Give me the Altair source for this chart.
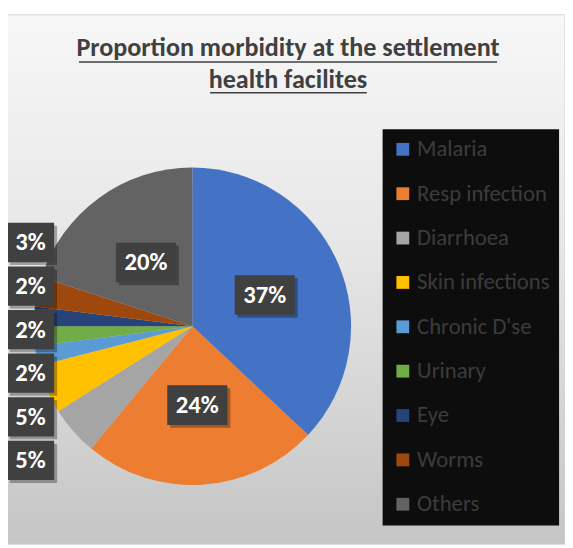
import math
import altair as alt
import pandas as pd

categories = ["Malaria", "Resp infection", "Diarrhoea", "Skin infections",
              "Chronic D'se", "Urinary", "Eye", "Worms", "Others"]
values = [37, 24, 5, 5, 2, 2, 2, 3, 20]
colors = ["#4472C4", "#ED7D31", "#A5A5A5", "#FFC000", "#5B9BD5",
          "#70AD47", "#264478", "#9E480E", "#636363"]
title_lines = ["Proportion morbidity at the settlement", "health facilites"]

# ---- layout constants (pixels in view coordinates) ----
W, H = 565, 540
CX, CY, R = 187, 319, 161
INNER_R = 0.497          # inner label radius (pie-radius units)
OUT_X = -1.02            # column of outside labels (pie-radius units)
OUT_Y0, OUT_STEP = -0.528, 0.2745
FONT = "Carlito, 'Liberation Sans Narrow', Roboto"

total = sum(values)
small = [i for i, v in enumerate(values) if v < 10]
small_rank = {i: r for r, i in enumerate(sorted(small, reverse=True))}

rows = []
cum = 0
for i, (c, v) in enumerate(zip(categories, values)):
    a = 2 * math.pi * (cum + v / 2) / total
    cum += v
    if i in small_rank:
        lx, ly = OUT_X, OUT_Y0 + small_rank[i] * OUT_STEP
    else:
        lx, ly = INNER_R * math.sin(a), -INNER_R * math.cos(a)
    rows.append(dict(idx=i, category=c, value=v,
                     label=f"{round(100 * v / total)}%", lx=lx, ly=ly))
df = pd.DataFrame(rows)

base = alt.Chart(df)

bg = base.transform_filter("datum.idx == 0").mark_rect(
    fill=alt.LinearGradient(
        gradient="linear",
        stops=[alt.GradientStop(color="#f7f7f7", offset=0),
               alt.GradientStop(color="#e6e6e6", offset=0.45),
               alt.GradientStop(color="#c5c5c5", offset=1)],
        x1=0, x2=0, y1=0, y2=1),
    stroke="#d4d4d4", strokeWidth=1,
).encode(x=alt.value(-3), x2=alt.value(W), y=alt.value(3), y2=alt.value(H))

pie_shadow = base.transform_filter("datum.idx == 0").mark_circle(
    size=math.pi * (R + 5) ** 2, color="black", opacity=0.07
).encode(x=alt.value(CX + 2), y=alt.value(CY + 3))

pie = base.mark_arc(radius=R).encode(
    theta=alt.Theta("value:Q", stack=True),
    order=alt.Order("idx:Q"),
    color=alt.Color(
        "category:N", sort=categories,
        scale=alt.Scale(domain=categories, range=colors),
        legend=alt.Legend(
            orient="none", legendX=380, legendY=119, title=None,
            fillColor="#0d0d0d", padding=9, symbolType="square",
            symbolSize=169, symbolStrokeWidth=0, labelFont=FONT,
            labelFontSize=23, labelColor="#3c3c3c", rowPadding=21,
            labelOffset=3, labelLimit=0,
        ),
    ),
    x=alt.value(CX), y=alt.value(CY),
)

X = alt.X("lx:Q", scale=alt.Scale(domain=[-1, 1], range=[CX - R, CX + R],
                                  nice=False, zero=False), axis=None)
Y = alt.Y("ly:Q", scale=alt.Scale(domain=[-1, 1], range=[CY - R, CY + R],
                                  nice=False, zero=False), axis=None)

WIDE = "M-1,-0.66L1,-0.66L1,0.66L-1,0.66Z"
NARROW = "M-1,-0.83L1,-0.83L1,0.83L-1,0.83Z"
wide_f = "length(datum.label) > 2"
narrow_f = "length(datum.label) <= 2"

def boxes(flt, shape, size, color, opacity, off):
    return base.transform_filter(flt).mark_point(
        shape=shape, filled=True, size=size, color=color, opacity=opacity,
        strokeWidth=0, xOffset=off, yOffset=off,
    ).encode(x=X, y=Y)

box_layers = [
    boxes(wide_f, WIDE, 61 ** 2, "black", 0.3, 3),
    boxes(narrow_f, NARROW, 48 ** 2, "black", 0.3, 3),
    boxes(wide_f, WIDE, 61 ** 2, "#404040", 1, 0),
    boxes(narrow_f, NARROW, 48 ** 2, "#404040", 1, 0),
]

labels = base.mark_text(
    font=FONT, fontWeight="bold", fontSize=25, color="white",
    align="center", baseline="middle",
).encode(x=X, y=Y, text="label:N")

def title_text(line, y):
    return alt.Chart(pd.DataFrame({"t": [line]})).mark_text(
        font=FONT, fontWeight="bold", fontSize=26.5, color="#404040",
        align="center", baseline="alphabetic",
    ).encode(x=alt.value(284), y=alt.value(y), text="t:N")

def underline(line, x1, x2, y):
    return alt.Chart(pd.DataFrame({"t": [line]})).mark_rule(
        color="#404040", strokeWidth=1.5
    ).encode(x=alt.value(x1), x2=alt.value(x2), y=alt.value(y))

t1 = title_text(title_lines[0], 45)
t2 = title_text(title_lines[1], 77)
u1 = underline(title_lines[0], 72, 496, 51)
u2 = underline(title_lines[1], 205, 364, 82)

chart = alt.layer(
    bg, pie_shadow, pie, *box_layers, labels, t1, t2, u1, u2
).properties(
    width=W, height=H,
    autosize=alt.AutoSizeParams(type="none"), padding=0,
).configure_view(stroke=None)

chart.save("out.html", embed_options={"renderer": "svg", "actions": False})
